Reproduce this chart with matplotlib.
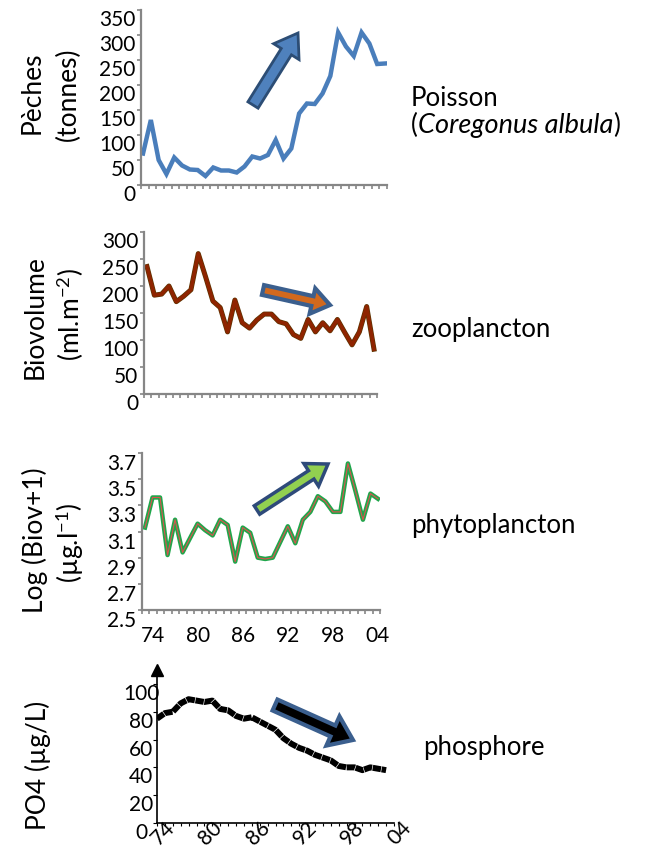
import numpy as np
import matplotlib
matplotlib.use("Agg")
import matplotlib.pyplot as plt
from matplotlib.patches import FancyArrow
from matplotlib import transforms
import matplotlib.patheffects as pe

plt.rcParams['font.family'] = ['Lato', 'DejaVu Sans']
plt.rcParams['mathtext.fontset'] = 'custom'
plt.rcParams['mathtext.rm'] = 'Lato'
plt.rcParams['mathtext.it'] = 'Lato:italic'
plt.rcParams['mathtext.bf'] = 'Lato:bold'

# ---- data -------------------------------------------------------------
years = list(range(1973, 2005))

fish_catch = [63, 130, 50, 22, 55, 39, 31, 30, 18, 35, 29, 29, 25, 37, 57, 53,
              60, 90, 53, 73, 143, 163, 162, 183, 218, 305, 277, 258, 305, 283,
              242, 243]

zoo_biovolume = [236, 183, 185, 200, 171, 181, 193, 260, 217, 172, 160, 115, 174,
                 132, 122, 137, 148, 148, 134, 130, 110, 103, 138, 115, 132, 117,
                 138, 114, 91, 115, 162, 83]

phyto_logbiov = [3.13, 3.36, 3.36, 2.92, 3.19, 2.94, 3.05, 3.16, 3.11, 3.07, 3.19,
                 3.15, 2.87, 3.13, 3.09, 2.90, 2.89, 2.90, 3.02, 3.14, 3.01, 3.19,
                 3.25, 3.37, 3.33, 3.25, 3.25, 3.62, 3.41, 3.19, 3.39, 3.35]

po4_years = list(range(1974, 2004))
po4 = [75, 79, 80, 86, 89, 88, 87, 88, 82, 81, 77, 75, 76, 73, 70, 67, 61, 57,
       54, 52, 49, 47, 45, 41, 40, 40, 38, 40, 39, 38]

year_labels = ['74', '80', '86', '92', '98', '04']
label_years = [1974, 1980, 1986, 1992, 1998, 2004]

# ---- figure -----------------------------------------------------------
W, H = 648, 847
fig = plt.figure(figsize=(W / 100, H / 100), dpi=100)

GREY = '#868686'
TICK_FS = 15


def panel(l, r, t, b):
    return fig.add_axes([l / W, 1 - b / H, (r - l) / W, (b - t) / H])


def shift_labels(labels, dx_px, dy_px):
    off = transforms.ScaledTranslation(dx_px / 100, -dy_px / 100, fig.dpi_scale_trans)
    for lbl in labels:
        lbl.set_transform(lbl.get_transform() + off)


def excel_style(ax, xlo, xhi, ylo, yhi, ystep):
    ax.set_xlim(xlo, xhi)
    ax.set_ylim(ylo, yhi)
    for s in ('top', 'right'):
        ax.spines[s].set_visible(False)
    for s in ('left', 'bottom'):
        ax.spines[s].set_color(GREY)
        ax.spines[s].set_linewidth(1.6)
    ax.set_yticks(np.arange(ylo, yhi + ystep / 2, ystep))
    ax.set_xticks(np.linspace(xlo, xhi, 33))
    ax.set_xticklabels([])
    ax.tick_params(axis='both', color=GREY, width=1.2, length=3,
                   labelsize=TICK_FS, labelcolor='black')
    ax.tick_params(axis='y', pad=1.0)


# fish catches
ax1 = panel(141, 387, 10, 185)
ax1.plot(years, fish_catch, color='#4a7ebb', lw=3.2, solid_joinstyle='miter')
excel_style(ax1, 1972.74, 2004.26, 0, 350, 50)
shift_labels(ax1.get_yticklabels(), 0, 8)

# zooplankton
ax2 = panel(144, 377, 232, 394)
ax2.plot(years, zoo_biovolume, color='#8f2400', lw=2.6,
         path_effects=[pe.Stroke(linewidth=3.6, foreground='#5c3300'), pe.Normal()])
excel_style(ax2, 1972.59, 2004.41, 0, 300, 50)
shift_labels(ax2.get_yticklabels(), 0, 8)

# phytoplankton
ax3 = panel(142, 380, 453, 610)
ax3.plot(years, phyto_logbiov, color='#1fa64b', lw=3.2)
ax3.plot(years, phyto_logbiov, color='#d9534f', lw=0.8)
excel_style(ax3, 1972.6, 2004.27, 2.5, 3.7, 0.2)
ax3.set_yticklabels([f'{v:.1f}' for v in np.arange(2.5, 3.75, 0.2)])
shift_labels(ax3.get_yticklabels(), 0, 9)
ax3.set_xticks(np.linspace(1972.6, 2004.27, 33), minor=True)
ax3.set_xticks(label_years)
ax3.set_xticklabels(year_labels)
ax3.tick_params(axis='x', which='major', length=0, pad=11.5)
ax3.tick_params(axis='x', which='minor', color=GREY, width=1.2, length=3)

# phosphate
ax4 = panel(157, 394, 670, 823)
ax4.plot(po4_years, po4, color='black', lw=4.3, linestyle=(0, (1.4, 0.11)),
         solid_capstyle='butt', dash_capstyle='butt')
ax4.set_xlim(1974, 2004)
ax4.set_ylim(0, 110)
for s in ('top', 'right'):
    ax4.spines[s].set_visible(False)
for s in ('left', 'bottom'):
    ax4.spines[s].set_color('black')
    ax4.spines[s].set_linewidth(1.2)
ax4.plot([0], [1], marker='^', color='black', markersize=8,
         transform=ax4.transAxes, clip_on=False)
ax4.set_yticks(np.arange(0, 101, 20))
ax4.set_xticks(label_years)
ax4.set_xticklabels(year_labels, rotation=45, ha='center', va='top')
ax4.set_xticks(np.arange(1974, 2005), minor=True)
ax4.tick_params(axis='y', length=3, width=0.8, pad=8.5, labelsize=TICK_FS)
ax4.tick_params(axis='x', which='both', length=2.5, width=0.8, labelsize=TICK_FS, pad=0)
for lbl in ax4.get_yticklabels():
    lbl.set_horizontalalignment('center')
shift_labels(ax4.get_yticklabels(), 0, 8)
shift_labels(ax4.get_xticklabels(), 6, -9)

# ---- overlay in pixel units for labels and trend arrows ---------------
ov = fig.add_axes([0, 0, 1, 1])
ov.set_xlim(0, W)
ov.set_ylim(H, 0)
ov.axis('off')
ov.patch.set_visible(False)

LAB_FS = 19
side = [
    (32, 93, 'Pèches'), (68, 94, '(tonnes)'),
    (35, 317, 'Biovolume'), (70, 315, '(ml.m$^{-2}$)'),
    (35, 540, 'Log (Biov+1)'), (70, 543, '(µg.l$^{-1}$)'),
    (38, 765, 'PO4 (µg/L)'),
]
for x, y, s in side:
    ov.text(x, y, s, rotation=90, ha='center', va='center', fontsize=LAB_FS)

NAME_FS = 18.5
ov.text(411, 106, 'Poisson', fontsize=NAME_FS, va='baseline')
p_open = ov.text(411, 133, '(', fontsize=NAME_FS, va='baseline')
p_it = ov.annotate('Coregonus albula', xy=(1, 0), xycoords=p_open,
                   fontsize=NAME_FS + 1, style='italic', va='bottom', ha='left')
ov.annotate(')', xy=(1, 0), xycoords=p_it, fontsize=NAME_FS, va='bottom', ha='left')
ov.text(411, 337, 'zooplancton', fontsize=NAME_FS, va='baseline')
ov.text(411, 533, 'phytoplancton', fontsize=NAME_FS, va='baseline')
ov.text(423, 755, 'phosphore', fontsize=NAME_FS, va='baseline')


def trend(x0, y0, x1, y1, face, edge, w, hw, hl, lw):
    ov.add_patch(FancyArrow(x0, y0, x1 - x0, y1 - y0, width=w, head_width=hw,
                            head_length=hl, length_includes_head=True,
                            facecolor=face, edgecolor=edge, linewidth=lw,
                            joinstyle='miter'))


trend(253, 105, 298, 33, '#4f81bd', '#2c4d75', 12, 30, 22, 2.0)
trend(263, 290, 330, 305, '#d2691e', '#3b5f8e', 10, 26, 18, 3.0)
trend(257, 510, 328, 464, '#92d050', '#2e4a7a', 10, 27, 20, 2.5)
trend(275, 705, 353, 740, 'black', '#3b5f8e', 12, 32, 22, 3.0)

fig.savefig('out.png', dpi=100)
